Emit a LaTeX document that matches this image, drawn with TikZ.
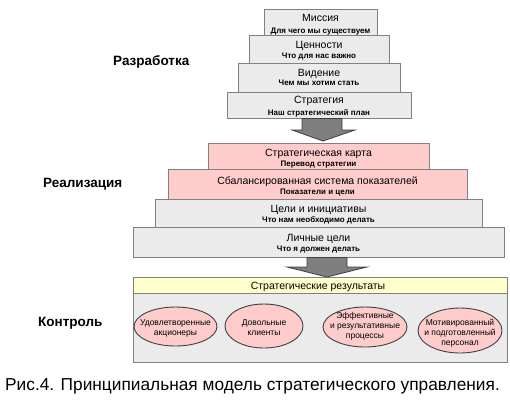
\documentclass[tikz,border=0pt]{standalone}
\usepackage{fontspec}
\setmainfont{Liberation Sans}
\usetikzlibrary{shapes.geometric}
\definecolor{boxline}{HTML}{808080}
\definecolor{boxgray}{HTML}{EBEBEB}
\definecolor{boxpink}{HTML}{FFCCCC}
\definecolor{boxyellow}{HTML}{FFFFCC}
\definecolor{arrowfill}{HTML}{7F7F7F}
\definecolor{arrowline}{HTML}{3F3F3F}
\definecolor{ellline}{HTML}{404040}
\begin{document}
\begin{tikzpicture}[x=1pt,y=-1pt,
  gbox/.style={draw=boxline, fill=boxgray, line width=1pt, inner sep=0, outer sep=0},
  pbox/.style={gbox, fill=boxpink},
  ybox/.style={gbox, fill=boxyellow},
  ttl/.style={font=\fontsize{10.5}{12}\selectfont, inner sep=0, anchor=base},
  sub/.style={font=\fontsize{8}{9}\selectfont\bfseries, inner sep=0, anchor=base},
  stage/.style={font=\fontsize{13.5}{15}\selectfont\bfseries, inner sep=0, anchor=base west},
  ell/.style={ellipse, draw=ellline, fill=boxpink, line width=0.9pt, inner sep=0},
  elltxt/.style={font=\fontsize{8.5}{10}\selectfont, align=center, inner sep=0},
  blockarrow/.style={fill=arrowfill, draw=arrowline, line width=0.8pt, line join=miter}]
\useasboundingbox[fill=white] (0,0) rectangle (510,413);

% --- Development ---
\node[gbox, minimum width=113, minimum height=26] (mis) at (320.5,22) {};
\node[ttl] (misT) at (320.5,21) {Миссия};
\node[sub] (misS) at (320.5,33) {Для чего мы существуем};

\node[gbox, minimum width=140, minimum height=28] (cen) at (319,49) {};
\node[ttl] (cenT) at (319,48) {Ценности};
\node[sub] (cenS) at (319,58) {Что для нас важно};

\node[gbox, minimum width=162, minimum height=29] (vid) at (319,77.5) {};
\node[ttl] (vidT) at (319,76) {Видение};
\node[sub] (vidS) at (319,85.5) {Чем мы хотим стать};

\node[gbox, minimum width=184, minimum height=26] (str) at (319,105) {};
\node[ttl] (strT) at (319,103) {Стратегия};
\node[sub] (strS) at (319,115) {Наш стратегический план};

% arrow 1 (from Strategy down to Strategy map)
\filldraw[blockarrow] (302,118.5) -- (302,130) -- (292,130) -- (323,141) -- (355,130)
  -- (342,130) -- (342,118.5) -- cycle;

% --- Realisation ---
\node[pbox, minimum width=221, minimum height=26] (map) at (318.5,156) {};
\node[ttl] (mapT) at (318.5,156) {Стратегическая карта};
\node[sub] (mapS) at (318.5,166) {Перевод стратегии};

\node[pbox, minimum width=299, minimum height=30] (bsc) at (317.5,184) {};
\node[ttl] (bscT) at (317.5,184) {Сбалансированная система показателей};
\node[sub] (bscS) at (317.5,194) {Показатели и цели};

\node[gbox, minimum width=327, minimum height=28] (goal) at (318.5,213) {};
\node[ttl] (goalT) at (318.5,212) {Цели и инициативы};
\node[sub] (goalS) at (318.5,222) {Что нам необходимо делать};

\node[gbox, minimum width=371, minimum height=30] (pers) at (318.5,242) {};
\node[ttl] (persT) at (318.5,241) {Личные цели};
\node[sub] (persS) at (318.5,251) {Что я должен делать};

% arrow 2 (from Personal goals down to results)
\filldraw[blockarrow] (307,257.5) -- (307,267) -- (287,267) -- (327,277) -- (367,267)
  -- (347,267) -- (347,257.5) -- cycle;

% --- Control ---
\node[gbox, minimum width=374, minimum height=69] (ctl) at (320,327.5) {};
\node[ybox, minimum width=374, minimum height=16] (res) at (320,285) {};
\node[ttl] (resT) at (318,289) {Стратегические результаты};

\node[ell, minimum width=83, minimum height=39] (e1) at (175.5,326.5) {};
\node[elltxt] (e1T) at (175.5,328) {Удовлетворенные\\акционеры};
\node[ell, minimum width=78, minimum height=44] (e2) at (264,326) {};
\node[elltxt] (e2T) at (264,328) {Довольные\\клиенты};
\node[ell, minimum width=84, minimum height=40] (e3) at (365,327) {};
\node[elltxt] (e3T) at (365,326) {Эффективные\\и результативные\\процессы};
\node[ell, minimum width=84, minimum height=45] (e4) at (460,330.5) {};
\node[elltxt] (e4T) at (460,333) {Мотивированный\\и подготовленный\\персонал};

% stage labels
\node[stage] (lDev) at (113,65) {Разработка};
\node[stage] (lReal) at (43,187) {Реализация};
\node[stage] (lCtl) at (38,326) {Контроль};

% caption
\node[font=\fontsize{17.3}{19}\selectfont, inner sep=0, anchor=base west] (cap) at (5,390)
  {Рис.4. Принципиальная модель стратегического управления.};
\end{tikzpicture}
\end{document}
